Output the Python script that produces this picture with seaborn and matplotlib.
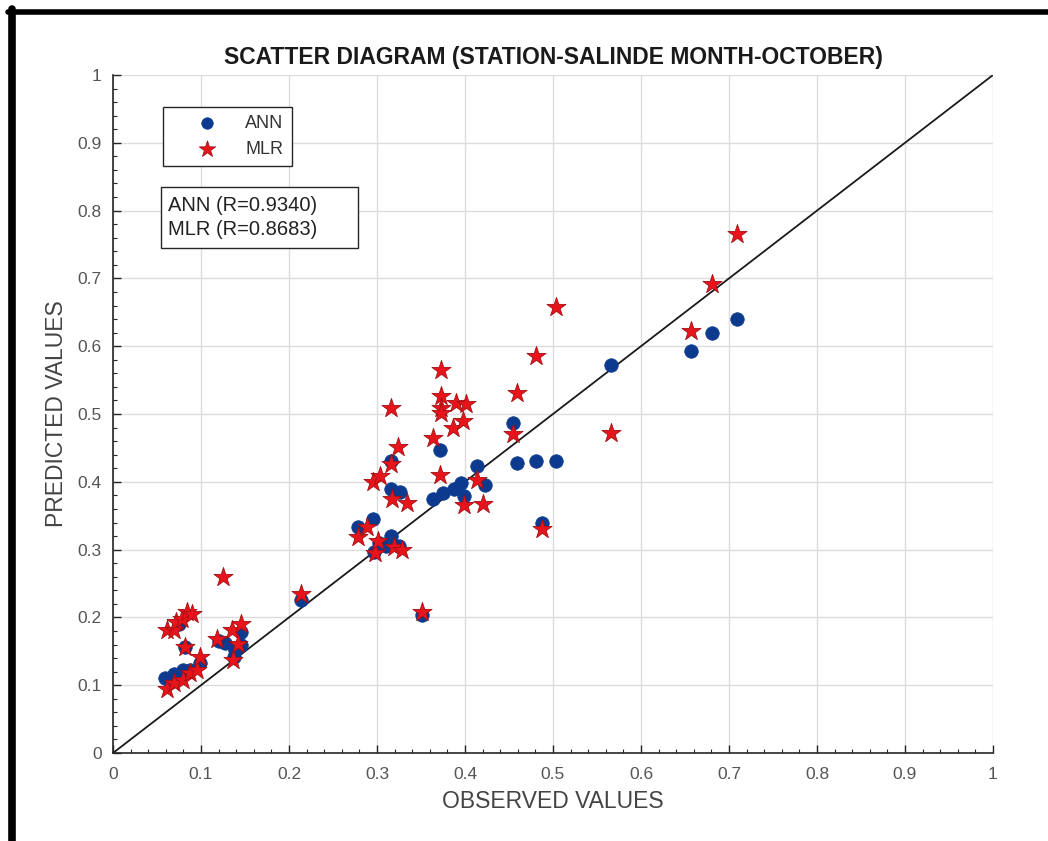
import numpy as np
import pandas as pd
import seaborn as sns
import matplotlib.pyplot as plt
from matplotlib.patches import Rectangle
from matplotlib.lines import Line2D
from matplotlib.ticker import MultipleLocator

# ANN (blue circles)
ann_obs = [0.059, 0.065, 0.069, 0.080, 0.0875, 0.099, 0.082, 0.075,
           0.120, 0.127, 0.137, 0.139, 0.146, 0.145,
           0.214, 0.278, 0.296, 0.297, 0.302, 0.310, 0.316, 0.325,
           0.316, 0.316, 0.326, 0.351,
           0.364, 0.375, 0.387, 0.396, 0.372, 0.399, 0.414, 0.423,
           0.455, 0.459, 0.481, 0.503, 0.488,
           0.566, 0.657, 0.681, 0.709]
ann_pred = [0.110, 0.105, 0.117, 0.122, 0.122, 0.133, 0.156, 0.190,
            0.165, 0.163, 0.142, 0.152, 0.179, 0.160,
            0.226, 0.333, 0.345, 0.297, 0.310, 0.305, 0.320, 0.305,
            0.430, 0.389, 0.385, 0.204,
            0.374, 0.383, 0.390, 0.398, 0.447, 0.379, 0.424, 0.395,
            0.487, 0.428, 0.431, 0.431, 0.339,
            0.572, 0.593, 0.620, 0.640]

# MLR (red stars)
mlr_obs = [0.061, 0.069, 0.080, 0.088, 0.095, 0.099,
           0.061, 0.069, 0.072, 0.078, 0.084, 0.090,
           0.082, 0.125, 0.118, 0.135, 0.146, 0.142, 0.136,
           0.214, 0.278, 0.289, 0.296, 0.303,
           0.298, 0.301, 0.319, 0.329,
           0.316, 0.316, 0.317, 0.324, 0.334, 0.351,
           0.364, 0.373, 0.372, 0.373, 0.373, 0.373,
           0.386, 0.390, 0.401, 0.398, 0.399, 0.414, 0.421,
           0.455, 0.459, 0.481, 0.504, 0.488,
           0.566, 0.657, 0.681, 0.709]
mlr_pred = [0.095, 0.103, 0.108, 0.118, 0.122, 0.142,
            0.181, 0.181, 0.193, 0.198, 0.208, 0.205,
            0.156, 0.259, 0.168, 0.181, 0.191, 0.161, 0.137,
            0.234, 0.318, 0.334, 0.400, 0.409,
            0.295, 0.312, 0.304, 0.300,
            0.426, 0.509, 0.375, 0.451, 0.369, 0.208,
            0.464, 0.565, 0.410, 0.527, 0.509, 0.501,
            0.480, 0.516, 0.515, 0.489, 0.366, 0.403, 0.367,
            0.471, 0.531, 0.585, 0.658, 0.330,
            0.472, 0.622, 0.692, 0.765]

tick_vals = [0, 0.1, 0.2, 0.3, 0.4, 0.5, 0.6, 0.7, 0.8, 0.9, 1]
tick_labels = ['0', '0.1', '0.2', '0.3', '0.4', '0.5', '0.6', '0.7', '0.8', '0.9', '1']
r_text = ['ANN (R=0.9340)', 'MLR (R=0.8683)']

sns.set_style('white')
plt.rcParams['font.family'] = ['Liberation Sans', 'DejaVu Sans']

fig = plt.figure(figsize=(10.48, 8.41), dpi=100)
ax = fig.add_axes([0.1078, 0.1046, 0.8397, 0.8062])

ax.axline((0, 0), slope=1, color='#1a1a1a', linewidth=1.3, zorder=2)

sns.scatterplot(x=ann_obs, y=ann_pred, ax=ax, marker='o', s=95,
                color='#0b3a8e', edgecolor='#0b3a8e', linewidth=0.5,
                label='ANN', zorder=3)
sns.scatterplot(x=mlr_obs, y=mlr_pred, ax=ax, marker='*', s=210,
                color='#e8141c', edgecolor='#a30f12', linewidth=0.6,
                label='MLR', zorder=4)

ax.set_xlim(0, 1)
ax.set_ylim(0, 1)
ax.set_xticks(tick_vals)
ax.set_yticks(tick_vals)
ax.set_xticklabels(tick_labels)
ax.set_yticklabels(tick_labels)
ax.xaxis.set_minor_locator(MultipleLocator(0.02))
ax.yaxis.set_minor_locator(MultipleLocator(0.02))
ax.grid(True, which='major', color='#dcdcdc', linewidth=1.0)
ax.set_axisbelow(True)

for side in ['top', 'right']:
    ax.spines[side].set_visible(False)
for side in ['left', 'bottom']:
    ax.spines[side].set_color('#262626')
    ax.spines[side].set_linewidth(1.2)

ax.tick_params(which='major', direction='in', length=6, width=1,
               color='#262626', labelsize=12.5, labelcolor='#555555',
               left=True, bottom=True)
ax.tick_params(axis='x', which='major', pad=10)
ax.tick_params(axis='y', which='major', pad=8)
ax.tick_params(which='minor', direction='in', length=3, width=0.8,
               color='#262626', left=True, bottom=True)

ax.set_xlabel('OBSERVED VALUES', fontsize=16.5, color='#444444', labelpad=6)
ax.set_ylabel('PREDICTED VALUES', fontsize=16.5, color='#444444', labelpad=7)
ax.set_title('SCATTER DIAGRAM (STATION-SALINDE MONTH-OCTOBER)',
             fontsize=16.5, fontweight='bold', color='#1a1a1a', pad=8)

leg = ax.legend(loc='upper left', bbox_to_anchor=(0.057, 0.953),
                fontsize=13, frameon=True, fancybox=False, framealpha=1,
                edgecolor='#262626', handlelength=4.0, handletextpad=0.1,
                borderpad=0.45, labelspacing=0.5, borderaxespad=0,
                markerscale=0.85)
leg.get_frame().set_linewidth(1.0)
for t in leg.get_texts():
    t.set_color('#333333')

ax.add_patch(Rectangle((0.0545, 0.745), 0.224, 0.090, transform=ax.transAxes,
                       facecolor='white', edgecolor='#262626', linewidth=1.0,
                       zorder=5))
ax.text(0.0625, 0.790, '\n'.join(r_text), transform=ax.transAxes,
        fontsize=14.5, color='#222222', va='center', ha='left',
        linespacing=1.3, zorder=6)

# thick black frame around the picture (top and left)
fig.add_artist(Line2D([0.008, 1.0], [0.9863, 0.9863], color='black',
                      linewidth=4, transform=fig.transFigure))
fig.add_artist(Line2D([0.011, 0.011], [0.0, 0.9888], color='black',
                      linewidth=5.5, transform=fig.transFigure))

fig.savefig('out.png', dpi=100)
